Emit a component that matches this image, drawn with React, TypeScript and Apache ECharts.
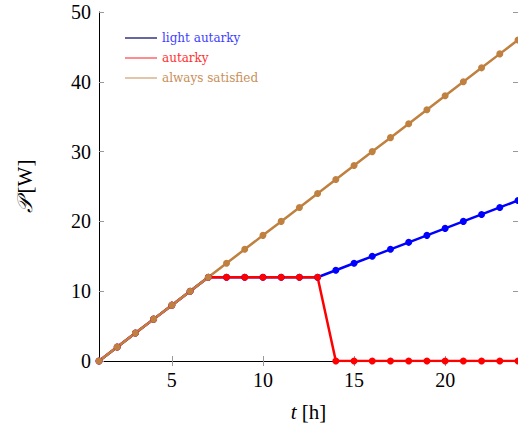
import React, { useEffect, useRef } from "react";
import * as echarts from "echarts";

const hours = [1, 2, 3, 4, 5, 6, 7, 8, 9, 10, 11, 12, 13, 14, 15, 16, 17, 18, 19, 20, 21, 22, 23, 24];
const lightAutarky = [0, 2, 4, 6, 8, 10, 12, 12, 12, 12, 12, 12, 12, 13, 14, 15, 16, 17, 18, 19, 20, 21, 22, 23];
const autarky = [0, 2, 4, 6, 8, 10, 12, 12, 12, 12, 12, 12, 12, 0, 0, 0, 0, 0, 0, 0, 0, 0, 0, 0];
const alwaysSatisfied = [0, 2, 4, 6, 8, 10, 12, 14, 16, 18, 20, 22, 24, 26, 28, 30, 32, 34, 36, 38, 40, 42, 44, 46];
const xTicks = [5, 10, 15, 20];

const BLUE = "#0000ff";
const RED = "#ff0000";
const ORANGE = "#bf8040";
const FONT = "Liberation Serif";
const LFONT = "DejaVu Serif";

export default function App() {
  const ref = useRef<HTMLDivElement>(null);
  useEffect(() => {
    document.body.style.margin = "0";
    const chart = echarts.init(ref.current!, null, { renderer: "svg" });
    const mk = (ys: number[]) => hours.map((h, i) => [h, ys[i]]);
    const tickStyle = { show: true, inside: true, length: 5, lineStyle: { color: "#999", width: 1 } };
    const lineAxis = { show: true, lineStyle: { color: "#000", width: 1 } };
    const nameStyle = {
      fontFamily: FONT,
      fontSize: 21,
      color: "#000",
      rich: {
        i: { fontFamily: FONT, fontStyle: "italic", fontSize: 21, color: "#000", padding: [0, 5, 0, 0] },
        r: { fontFamily: FONT, fontSize: 21, color: "#000" },
      },
    };
    chart.setOption({
      animation: false,
      backgroundColor: "#fff",
      textStyle: { fontFamily: FONT },
      grid: { left: 99, top: 12, width: 420, height: 349 },
      legend: {
        orient: "vertical",
        left: 120,
        top: 26,
        icon: "rect",
        itemWidth: 32,
        itemHeight: 1.2,
        itemGap: 6,
        textStyle: { fontFamily: LFONT, fontSize: 12, lineHeight: 14, padding: [0, 0, 0, 0] },
        data: [
          { name: "light autarky", itemStyle: { color: "#000066" }, textStyle: { color: "#4040ff" } },
          { name: "autarky", itemStyle: { color: "#ff4040" }, textStyle: { color: "#ff3030" } },
          { name: "always satisfied", itemStyle: { color: "#d0a070" }, textStyle: { color: "#c8905a" } },
        ],
      },
      xAxis: [
        {
          type: "value",
          min: 1,
          max: 24,
          position: "bottom",
          name: "{i|t}{r|[h]}",
          nameLocation: "middle",
          nameGap: 40,
          nameTextStyle: nameStyle,
          axisLine: lineAxis,
          axisTick: { ...tickStyle, customValues: xTicks },
          axisLabel: { customValues: xTicks, fontFamily: FONT, fontSize: 20, color: "#000", margin: 9 },
          splitLine: { show: false },
        },
        {
          type: "value",
          min: 1,
          max: 24,
          position: "top",
          axisLine: lineAxis,
          axisTick: { ...tickStyle, customValues: xTicks },
          axisLabel: { show: false },
          splitLine: { show: false },
        },
      ],
      yAxis: [
        {
          type: "value",
          min: 0,
          max: 50,
          interval: 10,
          position: "left",
          name: "{i|𝒫}{r|[W]}",
          nameLocation: "middle",
          nameGap: 64,
          nameRotate: 90,
          nameTextStyle: nameStyle,
          axisLine: lineAxis,
          axisTick: tickStyle,
          axisLabel: { fontFamily: FONT, fontSize: 20, color: "#000", margin: 8 },
          splitLine: { show: false },
        },
        {
          type: "value",
          min: 0,
          max: 50,
          interval: 10,
          position: "right",
          axisLine: lineAxis,
          axisTick: tickStyle,
          axisLabel: { show: false },
          splitLine: { show: false },
        },
      ],
      series: [
        {
          name: "light autarky",
          type: "line",
          data: mk(lightAutarky),
          symbol: "circle",
          symbolSize: 7,
          lineStyle: { color: BLUE, width: 2.5 },
          itemStyle: { color: BLUE },
        },
        {
          name: "autarky",
          type: "line",
          data: mk(autarky),
          symbol: "circle",
          symbolSize: 7,
          lineStyle: { color: RED, width: 2.5 },
          itemStyle: { color: RED },
        },
        {
          name: "always satisfied",
          type: "line",
          data: mk(alwaysSatisfied),
          symbol: "circle",
          symbolSize: 7,
          lineStyle: { color: ORANGE, width: 2.5 },
          itemStyle: { color: ORANGE },
        },
      ],
    });
    return () => chart.dispose();
  }, []);
  return <div ref={ref} style={{ width: 518, height: 432 }} />;
}
